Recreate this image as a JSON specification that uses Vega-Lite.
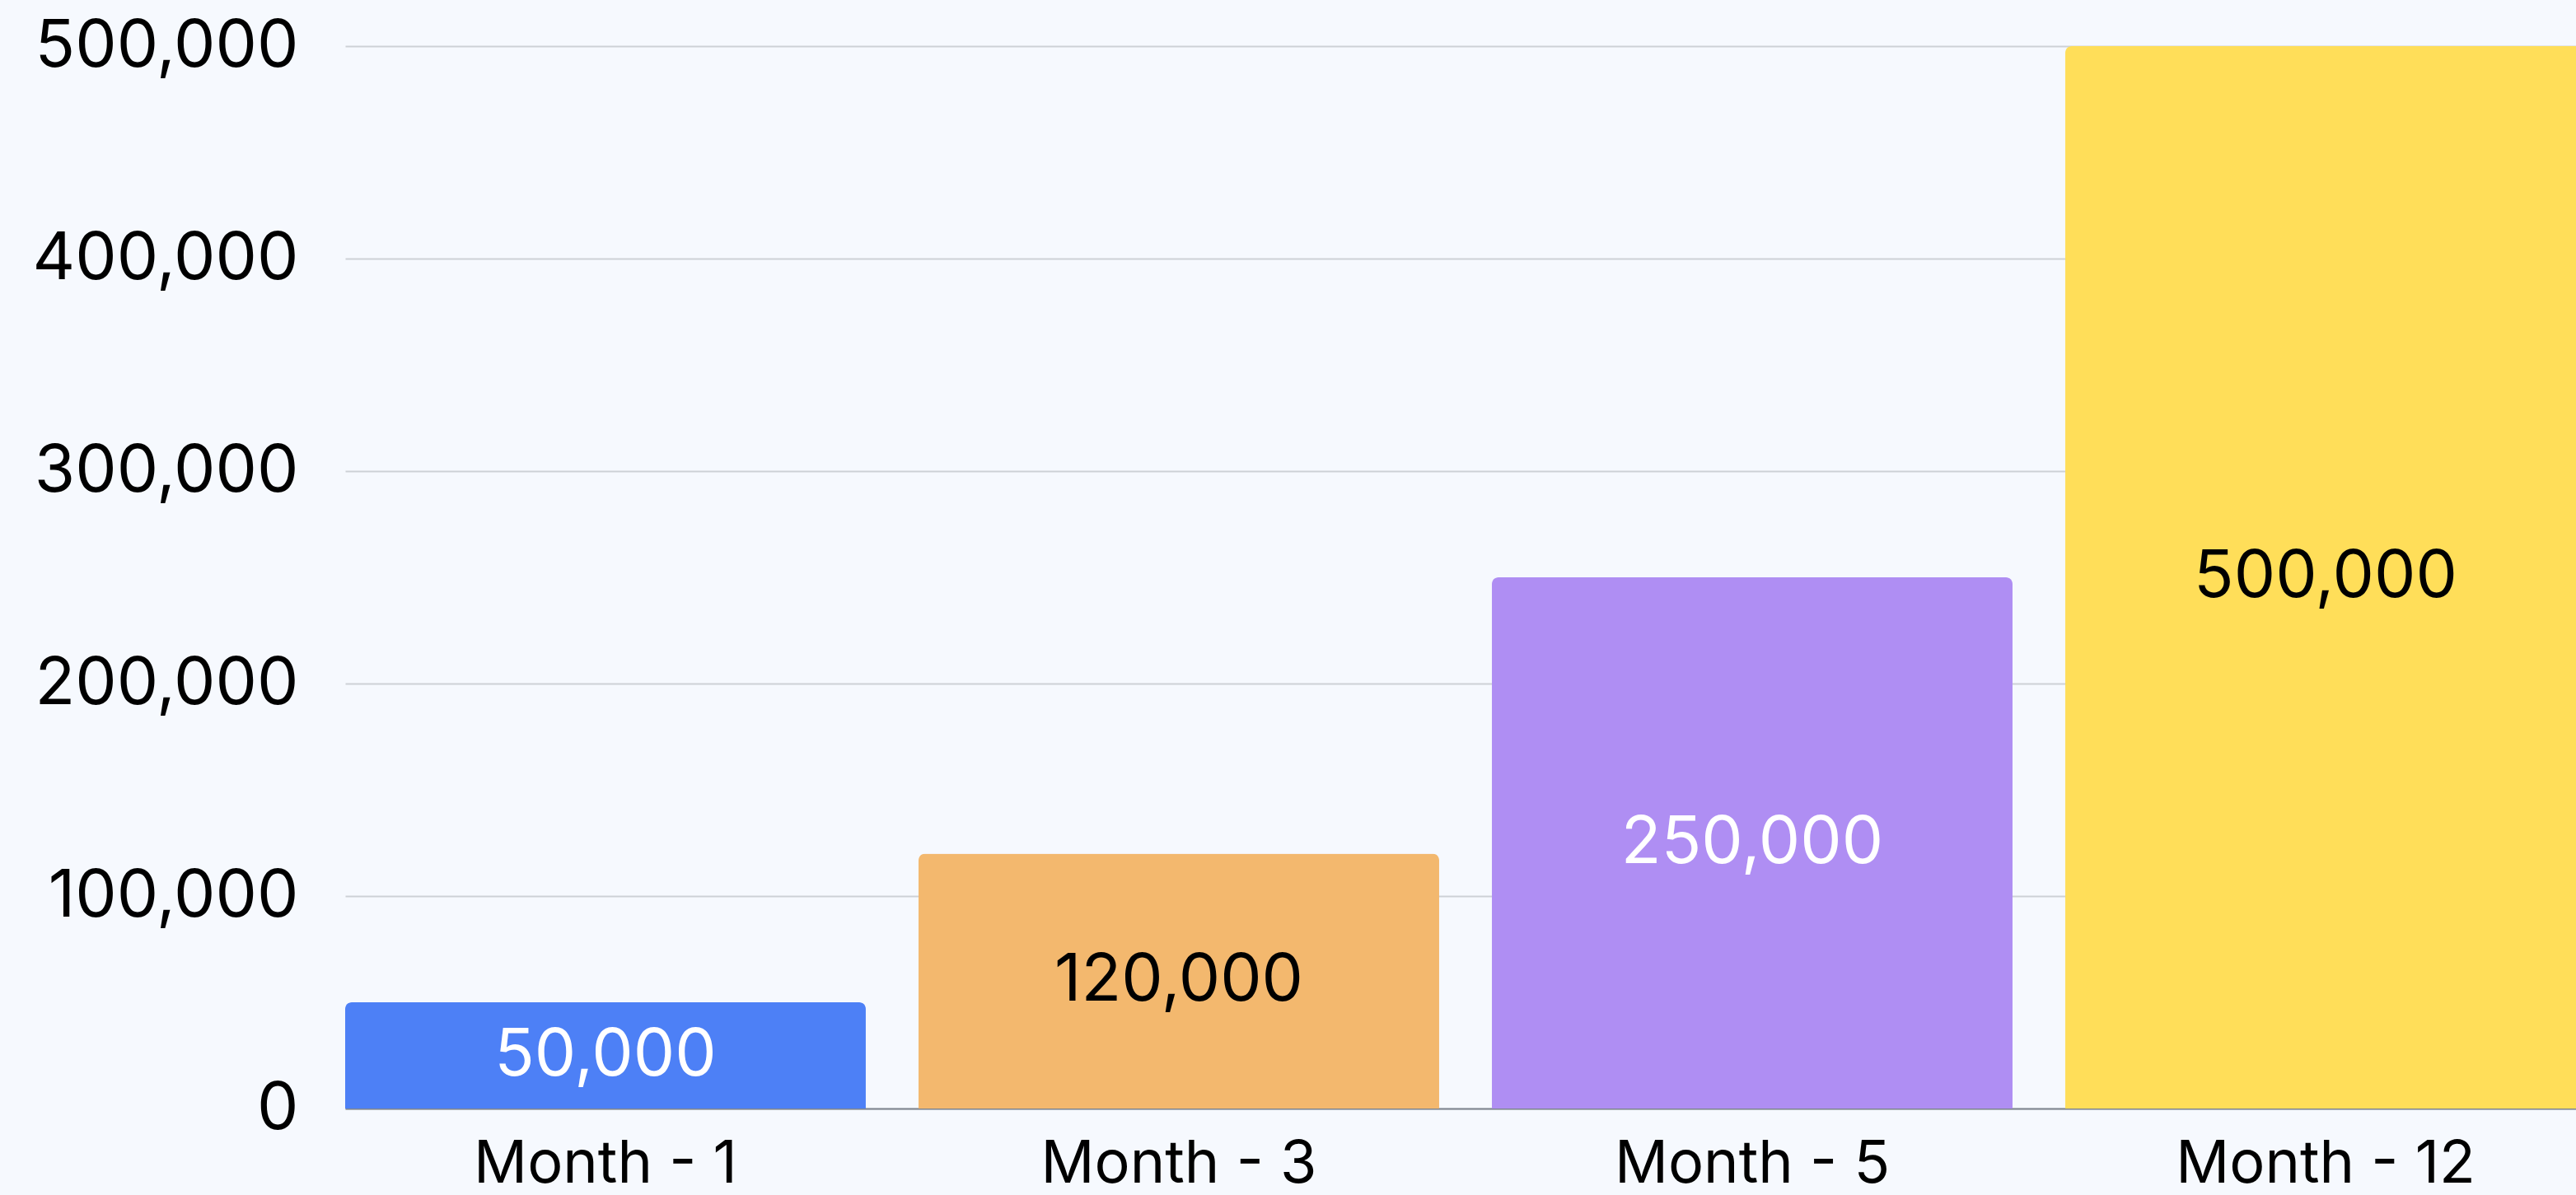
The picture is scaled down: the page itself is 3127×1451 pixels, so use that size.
{
  "$schema": "https://vega.github.io/schema/vega-lite/v6.json",
  "autosize": {"type": "none"},
  "padding": {"left": 419, "top": 56, "right": 0, "bottom": 105},
  "width": 2708,
  "height": 1290,
  "background": "#F6F9FE",
  "config": {
    "view": {"stroke": null, "fill": "#F6F9FE"},
    "font": "Inter"
  },
  "data": {
    "values": [
      {"month": "Month - 1", "value": 50000},
      {"month": "Month - 3", "value": 120000},
      {"month": "Month - 5", "value": 250000},
      {"month": "Month - 12", "value": 500000}
    ]
  },
  "encoding": {
    "x": {
      "field": "month",
      "type": "nominal",
      "sort": null,
      "scale": {"paddingInner": 0.092, "paddingOuter": 0, "rangeMax": 2720},
      "axis": {
        "title": null,
        "labelAngle": 0,
        "labelFontSize": 72,
        "labelColor": "#000000",
        "labelFont": "Inter",
        "labelPadding": 32,
        "labelLimit": 0,
        "ticks": false,
        "tickSize": 0,
        "domain": true,
        "domainColor": "#7E858F",
        "domainWidth": 2,
        "grid": false
      }
    }
  },
  "layer": [
    {
      "mark": {"type": "bar", "cornerRadiusTopLeft": 8, "cornerRadiusTopRight": 8},
      "encoding": {
        "y": {
          "field": "value",
          "type": "quantitative",
          "scale": {"domain": [0, 500000], "nice": false},
          "axis": {
            "title": null,
            "values": [0, 100000, 200000, 300000, 400000, 500000],
            "format": ",d",
            "labelFontSize": 80,
            "labelColor": "#000000",
            "labelFont": "Inter",
            "labelPadding": 57,
            "labelLimit": 0,
            "ticks": false,
            "tickSize": 0,
            "domain": false,
            "grid": true,
            "gridColor": "#CDD1D6",
            "gridWidth": 2
          }
        },
        "color": {
          "field": "month",
          "type": "nominal",
          "legend": null,
          "scale": {
            "domain": ["Month - 1", "Month - 3", "Month - 5", "Month - 12"],
            "range": ["#4D80F6", "#F3B86E", "#AF8EF3", "#FFDE59"]
          }
        }
      }
    },
    {
      "mark": {"type": "text", "fontSize": 80, "font": "Inter", "align": "center", "baseline": "middle"},
      "encoding": {
        "y": {
          "field": "value",
          "type": "quantitative",
          "scale": {"domain": [0, 1000000], "nice": false},
          "axis": null
        },
        "text": {"field": "value", "type": "quantitative", "format": ",d"},
        "color": {
          "condition": {"test": "datum.month === 'Month - 1' || datum.month === 'Month - 5'", "value": "#FFFFFF"},
          "value": "#000000"
        }
      }
    }
  ],
  "resolve": {"scale": {"y": "independent", "color": "independent"}}
}
